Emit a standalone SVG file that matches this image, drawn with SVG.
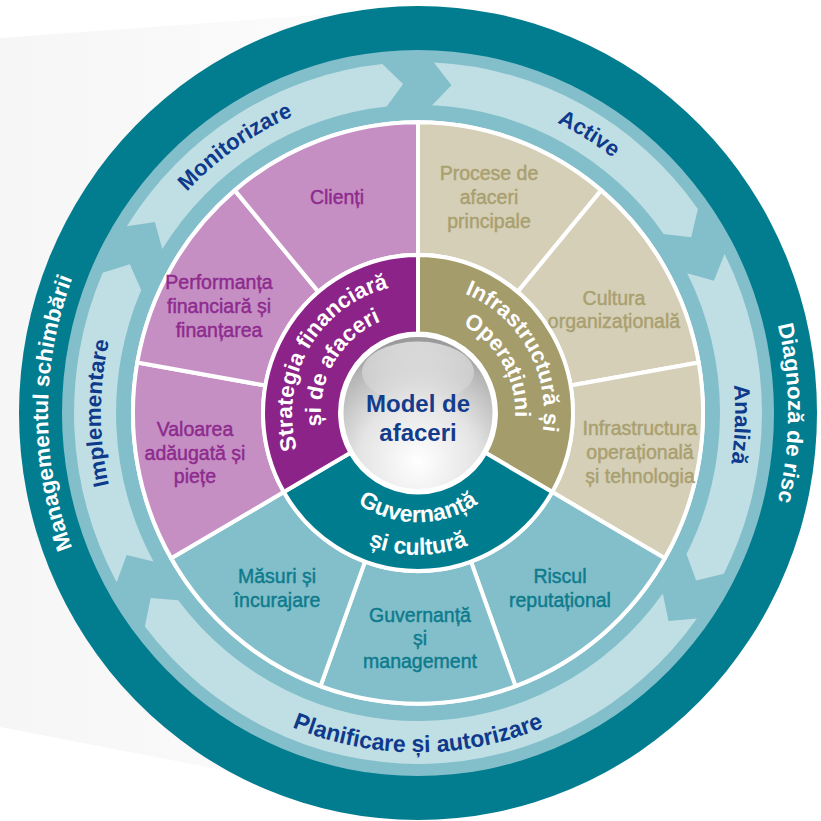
<svg xmlns="http://www.w3.org/2000/svg" xmlns:xlink="http://www.w3.org/1999/xlink" width="821" height="821" viewBox="0 0 821 821">
<defs>
<style>
.seg{stroke:#fff;stroke-width:4;stroke-linejoin:round}
.pu{fill:#C68FC3}.ta{fill:#D5CFB7}.te{fill:#83BFCA}
.ipu{fill:#8C2388}.ita{fill:#A59C6B}.ite{fill:#007C8F}
.lbl{font-family:"Liberation Sans",Arial,sans-serif;font-size:19.5px;text-anchor:middle;stroke-width:0.45px}
.lpu{fill:#8D2B8E;stroke:#8D2B8E}.lta{fill:#A9A070;stroke:#A9A070}.lte{fill:#0D7B8D;stroke:#0D7B8D}
.ring{font-family:"Liberation Sans",Arial,sans-serif;font-size:22px;font-weight:bold;text-anchor:middle}
.blue{fill:#0E3A8C}.wht{fill:#fff}
.arrow{fill:#C0DFE4}
.inner{font-family:"Liberation Sans",Arial,sans-serif;font-size:22px;font-weight:bold;fill:#fff;text-anchor:middle}
.ctr{font-family:"Liberation Sans",Arial,sans-serif;font-size:24px;font-weight:bold;fill:#143C8C;text-anchor:middle}
</style>
<linearGradient id="bg" x1="0" y1="0" x2="1" y2="0">
<stop offset="0" stop-color="#F6F6F6"/><stop offset="1" stop-color="#FDFDFD"/>
</linearGradient>
<radialGradient id="sphere" cx="50%" cy="82%" r="80%">
<stop offset="0" stop-color="#FFFFFF"/><stop offset="0.5" stop-color="#E4E4E4"/><stop offset="0.88" stop-color="#B4B4B4"/><stop offset="1" stop-color="#9A9A9A"/>
</radialGradient>
<linearGradient id="hl" x1="0" y1="0" x2="0" y2="1">
<stop offset="0" stop-color="#FFFFFF" stop-opacity="0.6"/><stop offset="1" stop-color="#FFFFFF" stop-opacity="0.05"/>
</linearGradient>
<path id="pMon" d="M-287.3,134 A317,317 0 0 1 224.1,-224.1"/>
<path id="pAct" d="M-235.6,-212.1 A317,317 0 0 1 293.9,118.7"/>
<path id="pAna" d="M65.9,-310.1 A317,317 0 0 1 44.1,313.9"/>
<path id="pImp" d="M-55,312.2 A317,317 0 0 1 -55,-312.2"/>
<path id="pPlan" d="M-327.9,57.8 A333,333 0 0 0 327.9,57.8"/>
<path id="pDiag" d="M64.2,-364.4 A370,370 0 0 1 64.2,364.4"/>
<path id="pMan" d="M-64.2,364.4 A370,370 0 0 1 -64.2,-364.4"/>
<path id="pStrat1" d="M-81,96.5 A126,126 0 0 1 43.1,-118.4"/>
<path id="pStrat2" d="M-62.4,74.3 A97,97 0 0 1 33.2,-91.2"/>
<path id="pInfra1" d="M-43.1,-118.4 A126,126 0 0 1 81,96.5"/>
<path id="pInfra2" d="M-33.2,-91.2 A97,97 0 0 1 62.4,74.3"/>
<path id="pGuv1" d="M-105.4,18.6 A107,107 0 0 0 105.4,18.6"/>
<path id="pGuv2" d="M-136.9,24.1 A139,139 0 0 0 136.9,24.1"/>
</defs>
<rect width="821" height="821" fill="#fff"/>
<polygon points="0,38 440,6 440,812 0,727" fill="url(#bg)"/>

<g id="cycle" transform="translate(418 413) scale(1 1.02)">
  <g id="outer-band">
    <circle r="399" fill="#027C8F"/>
    <circle r="356" fill="#83BFCA"/>
    <text class="ring wht"><textPath xlink:href="#pDiag" startOffset="50%">Diagnoză de risc</textPath></text>
    <text class="ring wht"><textPath xlink:href="#pMan" startOffset="50%">Managementul schimbării</textPath></text>
  </g>
  <g id="connectors">
    <g id="arrow-monitorizare">
      <path class="arrow" d="M-291.2,-183 A344,344 0 0 1 -35.7,-342.1 L-14.9,-322.6 L-31.3,-300.4 A302,302 0 0 0 -255.7,-160.7 L-263.1,-187.3 Z"/>
      <text class="ring blue"><textPath xlink:href="#pMon" startOffset="50%">Monitorizare</textPath></text>
    </g>
    <g id="arrow-active">
      <path class="arrow" d="M15.9,-343.6 A344,344 0 0 1 279.9,-200 L273.2,-172.4 L245.7,-175.6 A302,302 0 0 0 14,-301.7 L33.5,-321.3 Z"/>
      <text class="ring blue"><textPath xlink:href="#pAct" startOffset="50%">Active</textPath></text>
    </g>
    <g id="arrow-analiza">
      <path class="arrow" d="M306.6,-155.9 A344,344 0 0 1 305.8,157.5 L278.2,164.2 L268.5,138.3 A302,302 0 0 0 269.2,-136.9 L295.9,-129.6 Z"/>
      <text class="ring blue"><textPath xlink:href="#pAna" startOffset="50%">Analiză</textPath></text>
    </g>
    <g id="arrow-planificare">
      <path class="arrow" d="M278.9,201.5 A344,344 0 0 1 -273.1,209.2 L-267.3,181.3 L-239.8,183.6 A302,302 0 0 0 244.8,176.9 L250.5,203.9 Z"/>
      <text class="ring blue" style="font-size:23px"><textPath xlink:href="#pPlan" startOffset="50%">Planificare și autorizare</textPath></text>
    </g>
    <g id="arrow-implementare">
      <path class="arrow" d="M-301.3,166 A344,344 0 0 1 -315.3,-137.4 L-288.2,-145.9 L-276.8,-120.6 A302,302 0 0 0 -264.5,145.7 L-291.4,139.3 Z"/>
      <text class="ring blue"><textPath xlink:href="#pImp" startOffset="50%">Implementare</textPath></text>
    </g>
  </g>
  <circle r="287" fill="#fff"/>
</g>

<g id="seg-procese">
  <path class="seg ta" transform="translate(418 413) scale(1 1.02)" d="M0,-285 A285,285 0 0 1 183.2,-218.3 L99.6,-118.7 A155,155 0 0 0 0,-155 Z"/>
  <text class="lbl lta"><tspan x="489" y="180">Procese de</tspan><tspan x="489" y="204">afaceri</tspan><tspan x="489" y="228">principale</tspan></text>
</g>
<g id="seg-cultura">
  <path class="seg ta" transform="translate(418 413) scale(1 1.02)" d="M183.2,-218.3 A285,285 0 0 1 280.7,-49.5 L152.6,-26.9 A155,155 0 0 0 99.6,-118.7 Z"/>
  <text class="lbl lta"><tspan x="614" y="305">Cultura</tspan><tspan x="614" y="328">organizațională</tspan></text>
</g>
<g id="seg-infrastructura">
  <path class="seg ta" transform="translate(418 413) scale(1 1.02)" d="M280.7,-49.5 A285,285 0 0 1 246.8,142.5 L134.2,77.5 A155,155 0 0 0 152.6,-26.9 Z"/>
  <text class="lbl lta"><tspan x="640" y="435">Infrastructura</tspan><tspan x="640" y="459">operațională</tspan><tspan x="640" y="483">și tehnologia</tspan></text>
</g>
<g id="seg-riscul">
  <path class="seg te" transform="translate(418 413) scale(1 1.02)" d="M246.8,142.5 A285,285 0 0 1 97.5,267.8 L53,145.7 A155,155 0 0 0 134.2,77.5 Z"/>
  <text class="lbl lte"><tspan x="560" y="583">Riscul</tspan><tspan x="560" y="607">reputațional</tspan></text>
</g>
<g id="seg-guvernanta">
  <path class="seg te" transform="translate(418 413) scale(1 1.02)" d="M97.5,267.8 A285,285 0 0 1 -97.5,267.8 L-53,145.7 A155,155 0 0 0 53,145.7 Z"/>
  <text class="lbl lte"><tspan x="420" y="622">Guvernanță</tspan><tspan x="420" y="645">și</tspan><tspan x="420" y="668">management</tspan></text>
</g>
<g id="seg-masuri">
  <path class="seg te" transform="translate(418 413) scale(1 1.02)" d="M-97.5,267.8 A285,285 0 0 1 -246.8,142.5 L-134.2,77.5 A155,155 0 0 0 -53,145.7 Z"/>
  <text class="lbl lte"><tspan x="277" y="583">Măsuri și</tspan><tspan x="277" y="607">încurajare</tspan></text>
</g>
<g id="seg-valoarea">
  <path class="seg pu" transform="translate(418 413) scale(1 1.02)" d="M-246.8,142.5 A285,285 0 0 1 -280.7,-49.5 L-152.6,-26.9 A155,155 0 0 0 -134.2,77.5 Z"/>
  <text class="lbl lpu"><tspan x="195" y="436">Valoarea</tspan><tspan x="195" y="460">adăugată și</tspan><tspan x="195" y="483">piețe</tspan></text>
</g>
<g id="seg-performanta">
  <path class="seg pu" transform="translate(418 413) scale(1 1.02)" d="M-280.7,-49.5 A285,285 0 0 1 -183.2,-218.3 L-99.6,-118.7 A155,155 0 0 0 -152.6,-26.9 Z"/>
  <text class="lbl lpu"><tspan x="219" y="289">Performanța</tspan><tspan x="219" y="313">financiară și</tspan><tspan x="219" y="337">finanțarea</tspan></text>
</g>
<g id="seg-clienti">
  <path class="seg pu" transform="translate(418 413) scale(1 1.02)" d="M-183.2,-218.3 A285,285 0 0 1 0,-285 L0,-155 A155,155 0 0 0 -99.6,-118.7 Z"/>
  <text class="lbl lpu" x="337" y="204">Clienți</text>
</g>

<g id="core" transform="translate(418 413) scale(1 1.02)">
  <g id="inner-infrastructura">
    <path class="seg ita" d="M0,-155 A155,155 0 0 1 134.2,77.5 L67.5,39 A78,78 0 0 0 0,-78 Z"/>
    <text class="inner"><textPath xlink:href="#pInfra1" startOffset="50%">Infrastructură și</textPath></text>
    <text class="inner"><textPath xlink:href="#pInfra2" startOffset="50%">Operațiuni</textPath></text>
  </g>
  <g id="inner-guvernanta">
    <path class="seg ite" d="M134.2,77.5 A155,155 0 0 1 -134.2,77.5 L-67.5,39 A78,78 0 0 0 67.5,39 Z"/>
    <text class="inner" style="font-size:23px"><textPath xlink:href="#pGuv1" startOffset="50%">Guvernanță</textPath></text>
    <text class="inner" style="font-size:23px"><textPath xlink:href="#pGuv2" startOffset="50%">și cultură</textPath></text>
  </g>
  <g id="inner-strategia">
    <path class="seg ipu" d="M-134.2,77.5 A155,155 0 0 1 0,-155 L0,-78 A78,78 0 0 0 -67.5,39 Z"/>
    <text class="inner"><textPath xlink:href="#pStrat1" startOffset="50%">Strategia financiară</textPath></text>
    <text class="inner"><textPath xlink:href="#pStrat2" startOffset="50%">și de afaceri</textPath></text>
  </g>
  <g id="center-disc">
    <circle r="78" fill="#fff"/>
    <circle r="74.5" fill="url(#sphere)"/>
    <ellipse cx="0" cy="-40" rx="56" ry="30" fill="url(#hl)"/>
  </g>
</g>
<g id="center-label">
  <text class="ctr"><tspan x="418" y="412">Model de</tspan><tspan x="418" y="441">afaceri</tspan></text>
</g>
</svg>
